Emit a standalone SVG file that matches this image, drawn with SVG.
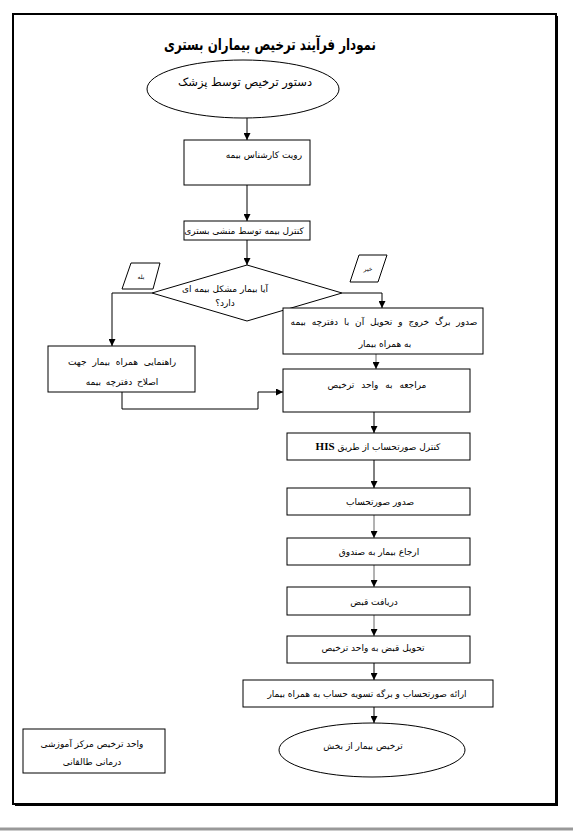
<svg xmlns="http://www.w3.org/2000/svg" width="573" height="832" viewBox="0 0 573 832">
<style>
.t{font-family:"DejaVu Sans","Noto Sans",sans-serif;font-size:9px;fill:#000;text-anchor:middle;direction:rtl}
.b{fill:#fff;stroke:#000;stroke-width:1}
.c{fill:none;stroke:#000;stroke-width:1}
.g{stroke:#666}
.title{font-family:"DejaVu Sans",sans-serif;font-size:16px;font-weight:bold;text-anchor:middle;direction:rtl}
</style>
<defs>
<marker id="ah" markerUnits="userSpaceOnUse" markerWidth="7" markerHeight="7" refX="7" refY="3.5" orient="auto">
<path d="M0,0 L7,3.5 L0,7 z" fill="#000"/>
</marker>
</defs>
<rect width="573" height="832" fill="#fff"/>
<g id="page">
<rect x="15" y="16" width="543" height="790" fill="#000"/>
<rect x="13" y="14" width="543" height="790" fill="#fff" stroke="#000" stroke-width="2"/>
<line x1="0" y1="829" x2="573" y2="829" stroke="#999" stroke-width="3"/>
</g>
<text class="title" transform="translate(270,50) scale(0.74,1)" x="0" y="0">نمودار فرآیند ترخیص بیماران بستری</text>
<g id="connectors" class="c">
<line x1="247" y1="118" x2="247" y2="140" marker-end="url(#ah)"/>
<line x1="247" y1="185" x2="247" y2="221" marker-end="url(#ah)"/>
<line x1="247" y1="240" x2="247" y2="265" marker-end="url(#ah)"/>
<polyline points="152,293 112,293 112,346" marker-end="url(#ah)"/>
<polyline points="342,293 382,293 382,308" marker-end="url(#ah)"/>
<line x1="376" y1="354" x2="376" y2="369" class="g" marker-end="url(#ah)"/>
<polyline points="122,392 122,409 258,409 258,392 283,392" marker-end="url(#ah)"/>
<line x1="374" y1="412" x2="374" y2="433" marker-end="url(#ah)"/>
<line x1="374" y1="460" x2="374" y2="488" marker-end="url(#ah)"/>
<line x1="374" y1="515" x2="374" y2="538" class="g" marker-end="url(#ah)"/>
<line x1="374" y1="565" x2="374" y2="587" class="g" marker-end="url(#ah)"/>
<line x1="374" y1="615" x2="374" y2="636" class="g" marker-end="url(#ah)"/>
<line x1="374" y1="663" x2="374" y2="680" marker-end="url(#ah)"/>
<line x1="374" y1="707" x2="374" y2="723" marker-end="url(#ah)"/>
</g>
<g id="start">
<ellipse class="b" cx="243" cy="89" rx="96" ry="29"/>
<text class="t" x="245" y="86" style="font-size:11.5px">دستور ترخیص توسط پزشک</text>
</g>
<g id="n1">
<rect class="b" x="184" y="140" width="126" height="45"/>
<text class="t" x="302" y="158" style="text-anchor:start">رویت کارشناس بیمه</text>
</g>
<g id="n2">
<rect class="b" x="184" y="221" width="126" height="19"/>
<text class="t" x="244" y="234">کنترل بیمه توسط منشی بستری</text>
</g>
<g id="decision">
<polygon class="b" points="247,265 342,293 247,321 152,293"/>
<text class="t" x="225" y="292">آیا بیمار مشکل بیمه ای</text>
<text class="t" x="225" y="306">دارد؟</text>
</g>
<g id="yes">
<polygon class="b" points="131,263 160,263 153,289 122,289"/>
<text class="t" x="141" y="279" style="font-size:6px">بله</text>
</g>
<g id="no">
<polygon class="b" points="359,255 387,255 378,282 350,282"/>
<text class="t" x="368" y="271" style="font-size:6px">خیر</text>
</g>
<g id="n3">
<rect class="b" x="283" y="308" width="200" height="46"/>
<text class="t" x="384" y="325" style="word-spacing:3px">صدور برگ خروج و تحویل آن با دفترچه بیمه</text>
<text class="t" x="385" y="347">به همراه بیمار</text>
</g>
<g id="n4">
<rect class="b" x="283" y="369" width="187" height="43"/>
<text class="t" x="377" y="388" style="word-spacing:4px">مراجعه به واحد ترخیص</text>
</g>
<g id="left">
<rect class="b" x="48" y="346" width="147" height="46"/>
<text class="t" x="122" y="365" style="word-spacing:3px">راهنمایی همراه بیمار جهت</text>
<text class="t" x="122" y="385" style="word-spacing:2px">اصلاح دفترچه بیمه</text>
</g>
<g id="n5">
<rect class="b" x="287" y="433" width="183" height="27"/>
<text class="t" x="378" y="450">کنترل صورتحساب از طریق <tspan style="font-family:'Liberation Serif',serif;font-weight:bold;font-size:11px">HIS</tspan></text>
</g>
<g id="n6">
<rect class="b" x="287" y="488" width="183" height="27"/>
<text class="t" x="380" y="505">صدور صورتحساب</text>
</g>
<g id="n7">
<rect class="b" x="287" y="538" width="183" height="27"/>
<text class="t" x="379" y="555">ارجاع بیمار به صندوق</text>
</g>
<g id="n8">
<rect class="b" x="287" y="587" width="183" height="28"/>
<text class="t" x="374" y="605">دریافت قبض</text>
</g>
<g id="n9">
<rect class="b" x="287" y="636" width="183" height="27"/>
<text class="t" x="373" y="651">تحویل قبض به واحد ترخیص</text>
</g>
<g id="n10">
<rect class="b" x="243" y="680" width="250" height="27"/>
<text class="t" x="367" y="697">ارائه صورتحساب و برگه تسویه حساب به همراه بیمار</text>
</g>
<g id="end">
<ellipse class="b" cx="372" cy="750" rx="93" ry="27"/>
<text class="t" x="363" y="749">ترخیص بیمار از بخش</text>
</g>
<g id="note">
<rect class="b" x="23" y="729" width="142" height="44"/>
<text class="t" x="92" y="747">واحد ترخیص مرکز آموزشی</text>
<text class="t" x="92" y="765">درمانی طالقانی</text>
</g>
</svg>
